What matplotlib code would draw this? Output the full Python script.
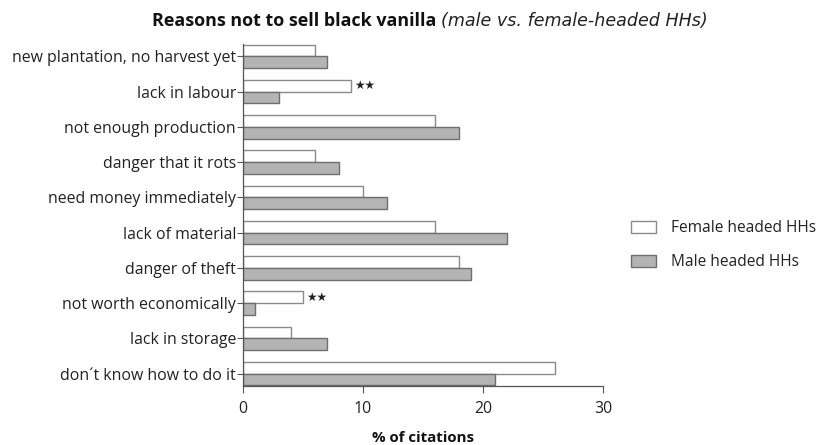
#!/usr/bin/env python3

import numpy as np
import matplotlib.pyplot as plt
from matplotlib.patches import Patch

plt.rcParams["font.family"] = ["Open Sans", "DejaVu Sans"]

categories = [
    "new plantation, no harvest yet",
    "lack in labour",
    "not enough production",
    "danger that it rots",
    "need money immediately",
    "lack of material",
    "danger of theft",
    "not worth economically",
    "lack in storage",
    "don\u00b4t know how to do it",
]
female = [6, 9, 16, 6, 10, 16, 18, 5, 4, 26]
male = [7, 3, 18, 8, 12, 22, 19, 1, 7, 21]
significant = ["", "**", "", "", "", "", "", "**", "", ""]

h = 0.333
y = np.arange(len(categories))

fig = plt.figure(figsize=(8.19, 4.45), dpi=100)
ax = fig.add_axes([0.2967, 0.1326, 0.4396, 0.7685])

ax.barh(y - h / 2, female, height=h, color="white", edgecolor="#8a8a8a", linewidth=1)
ax.barh(y + h / 2, male, height=h, color="#b4b4b4", edgecolor="#6e6e6e", linewidth=1)

# significance markers drawn as stars like in the original
for yi, val, s in zip(y, female, significant):
    if s:
        ax.text(val + 0.3, yi - h / 2, "\u2605" * len(s), va="center", ha="left",
                fontsize=8.5, family="DejaVu Sans", color="#222222")

ax.set_yticks(y)
ax.set_yticklabels(categories, fontsize=11.4, color="#222222")
ax.set_ylim(len(categories) - 1 + h + 0.02, -h - 0.02)
ax.set_xlim(0, 30)
ax.set_xticks([0, 10, 20, 30])
ax.tick_params(axis="x", labelsize=11.4, labelcolor="#222222", length=5,
               color="#555555", pad=6)
ax.tick_params(axis="y", length=4.5, color="#555555", pad=0.5)
for side in ["top", "right"]:
    ax.spines[side].set_visible(False)
for side in ["left", "bottom"]:
    ax.spines[side].set_color("#555555")
    ax.spines[side].set_linewidth(0.9)

ax.set_xlabel("% of citations", fontsize=10.8, fontweight="bold", labelpad=10,
              color="#111111")

# title: bold part + italic part, centred together
t1 = fig.text(0, 0.953, "Reasons not to sell black vanilla ", fontsize=12.9,
              fontweight="bold", ha="left", va="center", color="#111111")
t2 = fig.text(0, 0.953, "(male vs. female-headed HHs)", fontsize=12.6,
              style="italic", family="DejaVu Sans", ha="left", va="center",
              color="#222222")
fig.canvas.draw()
r = fig.canvas.get_renderer()
w1 = t1.get_window_extent(r).width / fig.bbox.width
w2 = t2.get_window_extent(r).width / fig.bbox.width
x0 = 430 / 819 - (w1 + w2) / 2
t1.set_x(x0)
t2.set_x(x0 + w1)

handles = [
    Patch(facecolor="white", edgecolor="#8a8a8a", label="Female headed HHs"),
    Patch(facecolor="#b4b4b4", edgecolor="#6e6e6e", label="Male headed HHs"),
]
fig.legend(handles=handles, loc="center left", bbox_to_anchor=(631 / 819, 1 - 245 / 445),
           frameon=False, fontsize=11.2, handlelength=1.6, handleheight=0.81,
           labelspacing=1.16, handletextpad=0.96, borderpad=0, borderaxespad=0,
           labelcolor="#222222")

fig.savefig("out.png", dpi=100)
